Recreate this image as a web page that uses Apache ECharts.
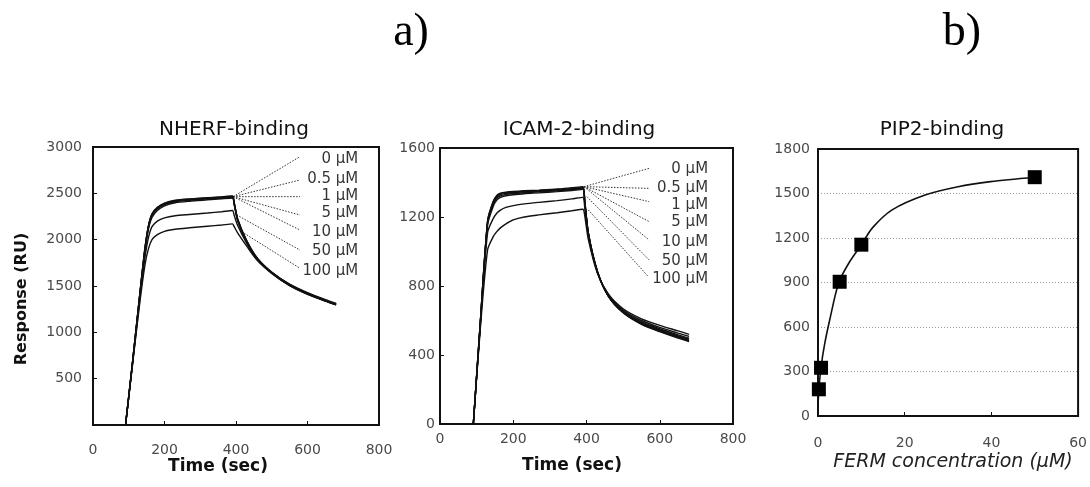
<!DOCTYPE html>
<html>
<head>
<meta charset="utf-8">
<script src="https://cdn.jsdelivr.net/npm/echarts@6/dist/echarts.min.js"></script>
<style>
html,body{margin:0;padding:0;background:#fff;}
#c{width:1090px;height:487px;}
</style>
</head>
<body>
<div id="c"></div>
<script>
// ---------- data ----------
const timeSec = [91, 110, 130, 145, 155, 165, 180, 200, 230, 270, 320, 360, 390, 395, 405, 430, 460, 500, 550, 600, 650, 680];
const concLabels = ['0 μM', '0.5 μM', '1 μM', '5 μM', '10 μM', '50 μM', '100 μM'];

// NHERF-binding sensorgrams (RU)
const nherf0   = [0, 660, 1380, 1900, 2150, 2280, 2350, 2395, 2425, 2440, 2452, 2462, 2472, 2400, 2220, 1990, 1800, 1650, 1515, 1420, 1345, 1305];
const nherf05  = [0, 660, 1380, 1900, 2145, 2275, 2345, 2390, 2420, 2437, 2450, 2460, 2468, 2395, 2215, 1985, 1795, 1645, 1512, 1418, 1343, 1303];
const nherf1   = [0, 655, 1375, 1890, 2140, 2270, 2340, 2385, 2415, 2432, 2446, 2456, 2465, 2390, 2210, 1980, 1790, 1640, 1508, 1415, 1340, 1300];
const nherf5   = [0, 655, 1370, 1880, 2130, 2260, 2330, 2378, 2408, 2425, 2440, 2450, 2458, 2385, 2205, 1975, 1785, 1638, 1505, 1412, 1338, 1298];
const nherf10  = [0, 650, 1360, 1860, 2110, 2240, 2315, 2365, 2398, 2415, 2430, 2442, 2450, 2375, 2200, 1970, 1780, 1635, 1503, 1410, 1336, 1296];
const nherf50  = [0, 640, 1330, 1800, 2020, 2140, 2200, 2235, 2258, 2272, 2288, 2302, 2315, 2260, 2150, 1960, 1785, 1645, 1515, 1422, 1348, 1308];
const nherf100 = [0, 630, 1290, 1720, 1900, 2000, 2055, 2090, 2112, 2128, 2145, 2158, 2170, 2140, 2070, 1930, 1775, 1645, 1520, 1428, 1352, 1312];

// ICAM-2-binding sensorgrams (RU)
const icam0   = [0, 590, 1180, 1290, 1325, 1338, 1344, 1348, 1352, 1356, 1362, 1370, 1376, 1300, 1110, 885, 740, 645, 578, 535, 498, 478];
const icam05  = [0, 590, 1175, 1285, 1320, 1334, 1341, 1345, 1349, 1353, 1359, 1366, 1372, 1298, 1108, 884, 740, 646, 580, 538, 502, 482];
const icam1   = [0, 585, 1170, 1280, 1315, 1330, 1337, 1342, 1346, 1350, 1356, 1363, 1368, 1295, 1105, 882, 740, 648, 583, 542, 506, 487];
const icam5   = [0, 585, 1165, 1272, 1308, 1323, 1331, 1336, 1341, 1346, 1352, 1359, 1364, 1290, 1102, 880, 742, 650, 587, 546, 511, 492];
const icam10  = [0, 580, 1155, 1260, 1298, 1314, 1323, 1329, 1335, 1340, 1347, 1354, 1360, 1285, 1100, 880, 744, 654, 592, 552, 517, 498];
const icam50  = [0, 570, 1110, 1190, 1222, 1240, 1256, 1266, 1276, 1285, 1295, 1305, 1314, 1260, 1090, 878, 748, 660, 600, 560, 527, 508];
const icam100 = [0, 550, 1010, 1085, 1115, 1137, 1160, 1183, 1200, 1212, 1225, 1236, 1245, 1210, 1070, 872, 752, 668, 610, 572, 540, 520];

// Leader lines + labels (data coordinates)
const nherfLeadStartT = [392, 392, 392, 392, 392, 402, 416];
const nherfLeadStartV = [2464, 2464, 2464, 2464, 2464, 2266, 2086];
const nherfLeadEndT = [579, 579, 579, 579, 579, 579, 579];
const nherfLeadEndV = [2896, 2644, 2464, 2266, 2104, 1888, 1691];
const nherfLabelT = [742, 742, 742, 742, 742, 742, 742];
const nherfLabelV = [2867, 2651, 2471, 2291, 2086, 1878, 1665];

const icamLeadStartT = [393, 393, 393, 393, 393, 401, 405];
const icamLeadStartV = [1376, 1376, 1376, 1376, 1376, 1318, 1241];
const icamLeadEndT = [571, 571, 571, 571, 571, 571, 569];
const icamLeadEndV = [1482, 1366, 1289, 1173, 1067, 951, 854];
const icamLabelT = [732, 732, 732, 732, 732, 732, 732];
const icamLabelV = [1476, 1366, 1270, 1173, 1057, 947, 839];

// PIP2-binding
const fermConc = [0.2, 0.7, 5, 10, 50];
const pip2Resp = [180, 325, 905, 1155, 1610];
const fitConc = [0, 0.2, 0.7, 1.5, 2.7, 4.8, 7.3, 9.9, 12.6, 17.1, 24.7, 32.3, 39.8, 50];
const fitResp = [60, 180, 330, 480, 647, 900, 1040, 1150, 1270, 1390, 1490, 1546, 1580, 1610];

// Tick settings
const timeTicks = {min: 0, max: 800, interval: 200};
const nherfTicks = {min: 0, max: 3000, interval: 500};
const icamTicks = {min: 0, max: 1600, interval: 400};
const concTicks = {min: 0, max: 60, interval: 20};
const pipTicks = {min: 0, max: 1800, interval: 300};

// ---------- chart ----------
const nherfCurves = [nherf0, nherf05, nherf1, nherf5, nherf10, nherf50, nherf100];
const icamCurves = [icam0, icam05, icam1, icam5, icam10, icam50, icam100];

const FONT = '"DejaVu Sans", sans-serif';
const INK = '#111';
const tickLbl = {color: '#4a4a4a', fontFamily: FONT, fontSize: 14, formatter: v => String(v)};

function xAx(grid, t, margin) {
  return {type: 'value', gridIndex: grid, min: t.min, max: t.max, interval: t.interval,
    axisLine: {show: true, lineStyle: {color: INK, width: 2}},
    axisTick: {show: true, inside: true, length: 4, lineStyle: {color: INK, width: 1}},
    axisLabel: Object.assign({margin: margin}, tickLbl),
    splitLine: {show: false}};
}
function yAx(grid, t, margin, hideMin, split) {
  return {type: 'value', gridIndex: grid, min: t.min, max: t.max, interval: t.interval,
    axisLine: {show: true, lineStyle: {color: INK, width: 2}},
    axisTick: {show: !split, inside: true, length: 4, lineStyle: {color: INK, width: 1}},
    axisLabel: Object.assign({margin: margin, showMinLabel: !hideMin}, tickLbl),
    splitLine: {show: !!split, showMinLine: false, showMaxLine: false,
      lineStyle: {color: '#9a9a9a', type: [1, 2], width: 1}}};
}

const series = [];
function addPanel(idx, curves, ls, lv, le, lve, lt, lvl) {
  curves.forEach((c, k) => {
    series.push({type: 'line', xAxisIndex: idx, yAxisIndex: idx, showSymbol: false, symbol: 'none',
      smooth: 0.25, z: 3,
      lineStyle: {color: INK, width: 1.4},
      data: timeSec.map((t, i) => [t, c[i]])});
  });
  concLabels.forEach((txt, k) => {
    series.push({type: 'line', xAxisIndex: idx, yAxisIndex: idx, showSymbol: false, symbol: 'none', z: 2,
      lineStyle: {color: '#333', width: 1, type: [1.5, 1.5]},
      data: [[ls[k], lv[k]], [le[k], lve[k]]]});
  });
  series.push({type: 'scatter', xAxisIndex: idx, yAxisIndex: idx, symbolSize: 0, z: 4,
    label: {show: true, position: 'left', distance: 0, color: '#000', fontFamily: FONT, fontSize: 15,
      formatter: p => concLabels[p.dataIndex]},
    data: concLabels.map((txt, k) => [lt[k], lvl[k]])});
}
addPanel(0, nherfCurves, nherfLeadStartT, nherfLeadStartV, nherfLeadEndT, nherfLeadEndV, nherfLabelT, nherfLabelV);
addPanel(1, icamCurves, icamLeadStartT, icamLeadStartV, icamLeadEndT, icamLeadEndV, icamLabelT, icamLabelV);

series.push({type: 'line', xAxisIndex: 2, yAxisIndex: 2, showSymbol: false, symbol: 'none', smooth: 0.3, z: 3,
  lineStyle: {color: INK, width: 1.6}, data: fitConc.map((x, i) => [x, fitResp[i]])});
series.push({type: 'scatter', xAxisIndex: 2, yAxisIndex: 2, symbol: 'rect', symbolSize: 14, z: 4,
  itemStyle: {color: '#000', opacity: 1}, data: fermConc.map((x, i) => [x, pip2Resp[i]])});

function txt(x, y, text, size, opts) {
  return Object.assign({type: 'text', x: x, y: y, z: 10, style: Object.assign({
    text: text, fill: INK, fontFamily: FONT, fontSize: size,
    align: 'center', verticalAlign: 'middle', textAlign: 'center', textVerticalAlign: 'middle'}, (opts && opts.style) || {})},
    (opts && opts.el) || {});
}

const option = {
  animation: false,
  backgroundColor: '#fff',
  grid: [
    {left: 93, right: 711, top: 147, bottom: 62, show: true, borderColor: INK, borderWidth: 2},
    {left: 440, right: 357, top: 148, bottom: 63, show: true, borderColor: INK, borderWidth: 2},
    {left: 818, right: 8, top: 149, bottom: 71, show: true, borderColor: INK, borderWidth: 2}
  ],
  xAxis: [xAx(0, timeTicks, 18), xAx(1, timeTicks, 8), xAx(2, concTicks, 20)],
  yAxis: [yAx(0, nherfTicks, 11, true, false), yAx(1, icamTicks, 5, false, false), yAx(2, pipTicks, 8, false, true)],
  series: series,
  graphic: [
    txt(411, 33, 'a)', 46, {style: {fontFamily: '"Liberation Serif", "DejaVu Serif", serif', fill: '#000'}}),
    txt(962, 33, 'b)', 46, {style: {fontFamily: '"Liberation Serif", "DejaVu Serif", serif', fill: '#000'}}),
    txt(234, 130, 'NHERF-binding', 20),
    txt(579, 130, 'ICAM-2-binding', 20),
    txt(942, 130, 'PIP2-binding', 20),
    txt(218, 467, 'Time (sec)', 17, {style: {fontWeight: 'bold'}}),
    txt(572, 466, 'Time (sec)', 17, {style: {fontWeight: 'bold'}}),
    txt(953, 462, 'FERM concentration (μM)', 19, {style: {fontStyle: 'italic', fill: '#222'}}),
    txt(22, 299, 'Response (RU)', 16, {style: {fontWeight: 'bold'}, el: {rotation: Math.PI / 2}})
  ]
};

const chart = echarts.init(document.getElementById('c'), null, {renderer: 'canvas'});
chart.setOption(option);
</script>
</body>
</html>
